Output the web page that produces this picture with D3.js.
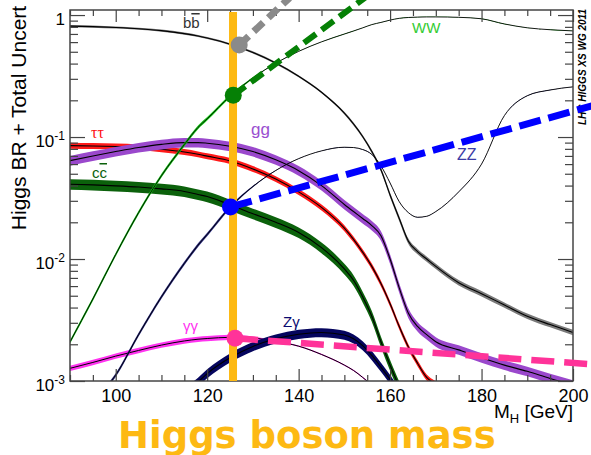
<!DOCTYPE html>
<html>
<head>
<meta charset="utf-8">
<script src="https://cdn.jsdelivr.net/npm/d3@7"></script>
<style>
  body { margin: 0; background: #fff; }
  svg { display: block; }
</style>
</head>
<body>
<svg id="chart" width="591" height="455"></svg>
<script>
// Higgs branching ratios (SM) vs. Higgs mass, with total uncertainty bands
const masses = [90, 95, 100, 105, 110, 115, 118, 120, 125, 130, 135, 140, 145, 150, 152, 154, 156, 158, 160, 162, 164, 166, 168, 170, 175, 180, 185, 190, 195, 200];

const brBB     = [0.812, 0.804, 0.791, 0.773, 0.745, 0.704, 0.673, 0.648, 0.577, 0.494, 0.404, 0.315, 0.233, 0.157, 0.128, 0.101, 0.076, 0.054, 0.0335, 0.0215, 0.0140, 0.0115, 0.0100, 0.0087, 0.0064, 0.0052, 0.0042, 0.0034, 0.0029, 0.0025];
const brTauTau = [0.085, 0.0845, 0.0837, 0.0823, 0.0795, 0.0755, 0.0722, 0.0697, 0.0637, 0.0548, 0.0452, 0.0355, 0.0265, 0.0179, 0.0145, 0.0114, 0.0087, 0.0063, 0.0043, 0.0028, 0.0019, 0.0014, 0.00107, 0.00094, 0.00073, null, null, null, null, null];
const brCC     = [0.0410, 0.0405, 0.0398, 0.0389, 0.0376, 0.0358, 0.0338, 0.0325, 0.0278, 0.0235, 0.0200, 0.0165, 0.0124, 0.0083, 0.0067, 0.0049, 0.0034, 0.0021, 0.00135, 0.00090, 0.00065, null, null, null, null, null, null, null, null, null];
const brGG     = [0.064, 0.070, 0.076, 0.082, 0.087, 0.090, 0.090, 0.089, 0.084, 0.076, 0.065, 0.053, 0.040, 0.028, 0.0245, 0.0215, 0.0188, 0.0155, 0.0100, 0.0058, 0.0036, 0.0028, 0.0024, 0.0021, 0.0018, 0.00155, 0.00135, 0.00120, 0.00105, 0.00093];
const brGamGam = [0.00127, 0.00142, 0.00160, 0.00178, 0.00197, 0.00213, 0.00220, 0.00223, 0.00228, 0.00225, 0.00211, 0.00193, 0.00165, 0.00135, 0.00122, 0.00107, 0.00092, 0.00075, 0.00055, null, null, null, null, null, null, null, null, null, null, null];
const brZGam   = [null, null, null, null, 0.00044, 0.00080, 0.00098, 0.00115, 0.00155, 0.00192, 0.00222, 0.00242, 0.00250, 0.00238, 0.00222, 0.00195, 0.00162, 0.00130, 0.00103, 0.00080, null, null, null, null, null, null, null, null, null, null];
const brWW     = [0.00209, 0.0047, 0.0109, 0.0240, 0.0482, 0.0867, 0.120, 0.141, 0.216, 0.305, 0.403, 0.504, 0.603, 0.699, 0.740, 0.785, 0.835, 0.870, 0.909, 0.940, 0.955, 0.962, 0.965, 0.965, 0.958, 0.932, 0.845, 0.786, 0.758, 0.741];
const brZZ     = [0.00042, 0.00067, 0.00112, 0.0024, 0.0049, 0.0092, 0.0130, 0.0159, 0.0266, 0.0393, 0.0532, 0.0665, 0.0770, 0.0825, 0.0820, 0.0790, 0.0720, 0.0580, 0.0420, 0.0295, 0.0240, 0.0220, 0.0224, 0.0245, 0.0355, 0.0600, 0.150, 0.218, 0.243, 0.258];

// relative half-widths of the uncertainty bands
const uncBB     = [0.02, 0.02, 0.02, 0.02, 0.02, 0.02, 0.02, 0.02, 0.02, 0.02, 0.02, 0.02, 0.02, 0.025, 0.03, 0.03, 0.035, 0.04, 0.045, 0.05, 0.05, 0.05, 0.05, 0.05, 0.05, 0.05, 0.05, 0.05, 0.05, 0.05];
const uncTauTau = 0.055;
const uncCC     = 0.10;
const uncGG     = 0.09;
const uncGamGam = [0.05, 0.05, 0.05, 0.05, 0.05, 0.05, 0.05, 0.05, 0.05, 0.03, 0.012, 0.012, 0.012, 0.012, 0.012, 0.012, 0.012, 0.012, 0.012, 0.012, 0.012, 0.012, 0.012, 0.012, 0.012, 0.012, 0.012, 0.012, 0.012, 0.012];
const uncZGam   = 0.085;
const uncVV     = [0.035, 0.035, 0.035, 0.035, 0.035, 0.035, 0.035, 0.033, 0.028, 0.015, 0.006, 0.003, 0.003, 0.003, 0.003, 0.003, 0.003, 0.003, 0.003, 0.003, 0.003, 0.003, 0.003, 0.003, 0.003, 0.003, 0.003, 0.003, 0.003, 0.003];

// measured Higgs mass and the four highlighted channels
const higgsMass = 125.65;
const higgsBarBR = [1.06, 0.001];
const markMass = [127.0, 125.7, 125.1, 126.1];
const markBR   = [0.567, 0.22, 0.0267, 0.00224];
const markEndMass = [138, 155, 205, 205];
const markEndBR   = [1.384, 1.431, 0.184, 0.001362];

const xTicks = [100, 120, 140, 160, 180, 200];
const yTicks = [1, 0.1, 0.01, 0.001];
const yTickText = [["1", null], ["10", "-1"], ["10", "-2"], ["10", "-3"]];

// ---------------------------------------------------------------------------
const svg = d3.select("#chart");
const plot = { left: 70, right: 573, top: 10, bottom: 381 };
const x = d3.scaleLinear().domain([90, 200]).range([plot.left, plot.right]);
const y = d3.scaleLog().domain([1e-3, 1.1]).range([plot.bottom, plot.top]);

svg.append("rect").attr("width", 591).attr("height", 455).attr("fill", "#fff");

svg.append("clipPath").attr("id", "plotClip")
  .append("rect")
  .attr("x", plot.left).attr("y", plot.top)
  .attr("width", plot.right - plot.left).attr("height", plot.bottom - plot.top);

const series = [
  { br: brBB,     unc: uncBB,     fill: "#7a7a7a", lw: 1.1 },
  { br: brTauTau, unc: uncTauTau, fill: "#ff1a1a", lw: 1.1 },
  { br: brCC,     unc: uncCC,     fill: "#0b610b", lw: 1.1 },
  { br: brGG,     unc: uncGG,     fill: "#9a48cc", lw: 1.1 },
  { br: brGamGam, unc: uncGamGam, fill: "#ff33f0", lw: 1.0 },
  { br: brZGam,   unc: uncZGam,   fill: "#05055e", lw: 1.1 },
  { br: brZZ,     unc: uncVV,     fill: "#28287e", lw: 0.9 },
  { br: brWW,     unc: uncVV,     fill: "#14c814", lw: 0.9 }
];

const curves = svg.append("g").attr("clip-path", "url(#plotClip)");
const curveType = d3.curveMonotoneX;

series.forEach(s => {
  const pts = masses.map((m, i) => ({
    m, v: s.br[i],
    u: Array.isArray(s.unc) ? s.unc[i] : s.unc
  }));
  const band = d3.area()
    .defined(d => d.v != null)
    .curve(curveType)
    .x(d => x(d.m))
    .y0(d => y(d.v * (1 - d.u)))
    .y1(d => y(d.v * (1 + d.u)));
  const center = d3.line()
    .defined(d => d.v != null)
    .curve(curveType)
    .x(d => x(d.m))
    .y(d => y(d.v));
  curves.append("path").attr("d", band(pts)).attr("fill", s.fill).attr("stroke", "none");
  curves.append("path").attr("d", center(pts)).attr("fill", "none")
    .attr("stroke", "#000").attr("stroke-width", s.lw);
});

// axes (ticks pointing inward on all four sides)
const axisColor = "#444";
const xMinor = d3.range(90, 201, 5).filter(v => !xTicks.includes(v));
const yMinor = [];
[0.001, 0.01, 0.1].forEach(d => { for (let k = 2; k <= 9; k++) yMinor.push(+(k * d).toPrecision(3)); });

function styleAxis(g) {
  g.select(".domain").remove();
  g.attr("color", axisColor);
  g.selectAll(".tick line").attr("stroke-width", 1.2);
}

const gxb = svg.append("g").attr("transform", `translate(0,${plot.bottom})`)
  .call(d3.axisBottom(x).tickValues(xTicks).tickSizeInner(-12).tickSizeOuter(0).tickPadding(8));
styleAxis(gxb);
gxb.selectAll("text").attr("fill", "#000").attr("font-family", "Liberation Sans, Arial, sans-serif").attr("font-size", 18);

svg.append("g").attr("transform", `translate(0,${plot.bottom})`)
  .call(d3.axisBottom(x).tickValues(xMinor).tickSizeInner(-6).tickSizeOuter(0).tickFormat(""))
  .call(styleAxis);
svg.append("g").attr("transform", `translate(0,${plot.top})`)
  .call(d3.axisTop(x).tickValues(xTicks).tickSizeInner(-12).tickSizeOuter(0).tickFormat(""))
  .call(styleAxis);
svg.append("g").attr("transform", `translate(0,${plot.top})`)
  .call(d3.axisTop(x).tickValues(xMinor).tickSizeInner(-6).tickSizeOuter(0).tickFormat(""))
  .call(styleAxis);

const gyl = svg.append("g").attr("transform", `translate(${plot.left},0)`)
  .call(d3.axisLeft(y).tickValues(yTicks).tickSizeInner(-15).tickSizeOuter(0).tickPadding(5).tickFormat(""));
styleAxis(gyl);
gyl.selectAll(".tick text").each(function (d, i) {
  const t = d3.select(this)
    .attr("fill", "#000")
    .attr("font-family", "Liberation Sans, Arial, sans-serif")
    .attr("font-size", 17)
    .attr("dy", "0.55em");
  const [base, sup] = yTickText[i];
  t.text(null);
  t.append("tspan").text(base);
  if (sup) t.append("tspan").attr("font-size", 12).attr("dy", -7).text(sup);
});
svg.append("g").attr("transform", `translate(${plot.left},0)`)
  .call(d3.axisLeft(y).tickValues(yMinor).tickSizeInner(-8).tickSizeOuter(0).tickFormat(""))
  .call(styleAxis);
svg.append("g").attr("transform", `translate(${plot.right},0)`)
  .call(d3.axisRight(y).tickValues(yTicks).tickSizeInner(-15).tickSizeOuter(0).tickFormat(""))
  .call(styleAxis);
svg.append("g").attr("transform", `translate(${plot.right},0)`)
  .call(d3.axisRight(y).tickValues(yMinor).tickSizeInner(-8).tickSizeOuter(0).tickFormat(""))
  .call(styleAxis);

svg.append("rect")
  .attr("x", plot.left).attr("y", plot.top)
  .attr("width", plot.right - plot.left).attr("height", plot.bottom - plot.top)
  .attr("fill", "none").attr("stroke", axisColor).attr("stroke-width", 1.5);

// channel labels
const sans = "Liberation Sans, Arial, sans-serif";
const serif = "Liberation Serif, Times New Roman, serif";
function label(px, py, color, size, family, parts) {
  const t = svg.append("text").attr("x", px).attr("y", py)
    .attr("fill", color).attr("font-size", size).attr("font-family", family);
  parts.forEach(p => {
    const s = t.append("tspan").text(p.t);
    if (p.over) s.style("text-decoration", "overline");
  });
}
label(183, 28, "#333", 15, sans, [{ t: "b" }, { t: "b", over: true }]);
label(412, 33, "#33cc33", 15, sans, [{ t: "WW" }]);
label(91, 138, "#ff1010", 16, serif, [{ t: "ττ" }]);
label(92, 178, "#0b610b", 15, sans, [{ t: "c" }, { t: "c", over: true }]);
label(251, 135, "#9a4fd0", 17, sans, [{ t: "gg" }]);
label(457, 160, "#3c3ca6", 16, sans, [{ t: "ZZ" }]);
label(283, 327, "#0a0a70", 15, sans, [{ t: "Zγ" }]);
label(183, 331, "#ff33f0", 15, sans, [{ t: "γγ" }]);

// axis titles
const xt = svg.append("text").attr("x", plot.right).attr("y", 418)
  .attr("text-anchor", "end").attr("font-family", sans).attr("font-size", 19).attr("fill", "#000");
xt.append("tspan").text("M");
xt.append("tspan").attr("font-size", 13).attr("dy", 5).text("H");
xt.append("tspan").attr("dy", -5).text(" [GeV]");

svg.append("text")
  .attr("transform", "translate(26,118) rotate(-90)")
  .attr("text-anchor", "middle").attr("font-family", sans).attr("font-size", 21).attr("fill", "#000")
  .text("Higgs BR + Total Uncert");

svg.append("text")
  .attr("transform", "translate(586,125) rotate(-90)")
  .attr("font-family", sans).attr("font-size", 10).attr("font-weight", "bold").attr("font-style", "italic")
  .attr("fill", "#000")
  .text("LHC HIGGS XS WG 2011");

// measured mass: vertical bar, per-channel markers and dashed trends
const gold = "#fdb913";
svg.append("line")
  .attr("x1", x(higgsMass)).attr("x2", x(higgsMass))
  .attr("y1", y(higgsBarBR[0])).attr("y2", y(higgsBarBR[1]))
  .attr("stroke", gold).attr("stroke-width", 8);

const markColors = ["#8a8a8a", "#058005", "#0000ff", "#ff3399"];
const markWidths = [7, 6, 7, 6.5];
const markDash = ["13,7", "15,7", "22,8", "23,10"];
const seg = d3.line().x(d => x(d.m)).y(d => y(d.v));
markMass.forEach((m, i) => {
  svg.append("path")
    .attr("d", seg([{ m, v: markBR[i] }, { m: markEndMass[i], v: markEndBR[i] }]))
    .attr("fill", "none").attr("stroke", markColors[i])
    .attr("stroke-width", markWidths[i]).attr("stroke-dasharray", markDash[i]);
});
markMass.forEach((m, i) => {
  svg.append("circle").attr("cx", x(m)).attr("cy", y(markBR[i])).attr("r", 8.5)
    .attr("fill", markColors[i]);
});

svg.append("text").attr("x", 118).attr("y", 448)
  .attr("font-family", "DejaVu Sans, Verdana, sans-serif").attr("font-weight", "bold")
  .attr("font-size", 37).attr("fill", gold)
  .text("Higgs boson mass");
</script>
</body>
</html>
